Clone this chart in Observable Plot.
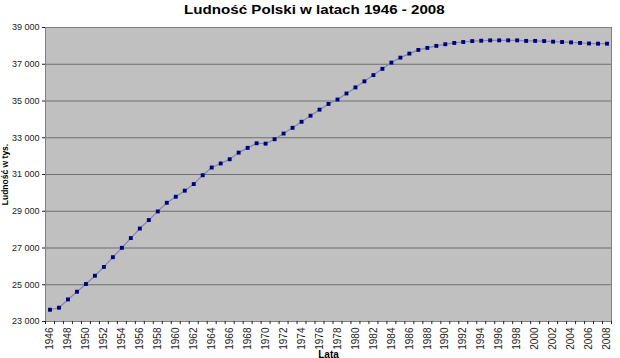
<!DOCTYPE html>
<html>
<head>
<meta charset="utf-8">
<script src="https://cdn.jsdelivr.net/npm/d3@7"></script>
<script src="https://cdn.jsdelivr.net/npm/@observablehq/plot@0.6"></script>
<style>
  html, body { margin: 0; padding: 0; background: #fff; }
  #title { height: 20px; width: 620px; text-align: center; padding-left: 8px; box-sizing: border-box; overflow: visible; }
  #title span { display: inline-block; font: bold 12px "Liberation Sans", Arial, sans-serif; line-height: 14px; transform: scaleX(1.26); transform-origin: center; color: #000; margin-top: 1px; }
  svg [aria-label="y-axis label"] text { font-weight: bold; font-size: 8.5px; fill: #000; }
  svg [aria-label="x-axis label"] text { font-weight: bold; font-size: 10px; fill: #000; }
  svg [aria-label="x-axis tick label"] text { font-size: 10px; }
</style>
</head>
<body>
<div id="title"><span>Ludność Polski w latach 1946 - 2008</span></div>
<div id="chart"></div>
<script>
const years = [1946,1947,1948,1949,1950,1951,1952,1953,1954,1955,1956,1957,1958,1959,1960,1961,1962,1963,1964,1965,1966,1967,1968,1969,1970,1971,1972,1973,1974,1975,1976,1977,1978,1979,1980,1981,1982,1983,1984,1985,1986,1987,1988,1989,1990,1991,1992,1993,1994,1995,1996,1997,1998,1999,2000,2001,2002,2003,2004,2005,2006,2007,2008];
const population = [23640,23750,24200,24620,25040,25490,25970,26500,27010,27540,28060,28520,28990,29460,29790,30120,30480,30960,31380,31600,31830,32190,32450,32700,32680,32920,33230,33540,33870,34200,34530,34840,35080,35410,35740,36070,36410,36750,37090,37360,37580,37780,37890,38000,38090,38160,38210,38260,38280,38300,38300,38300,38300,38270,38270,38260,38230,38210,38190,38160,38130,38120,38120];
const yTicks = [23000,25000,27000,29000,31000,33000,35000,37000,39000];
const yearLabels = [1946,1948,1950,1952,1954,1956,1958,1960,1962,1964,1966,1968,1970,1972,1974,1976,1978,1980,1982,1984,1986,1988,1990,1992,1994,1996,1998,2000,2002,2004,2006,2008];
const categoryEdges = years.concat([2009]).map(y => y - 0.5);

const data = years.map((year, i) => ({year, pop: population[i]}));
const fmt = d => d3.format(",")(d).replace(",", " ");

const chart = Plot.plot({
  width: 620,
  height: 338,
  marginTop: 7,
  marginBottom: 37,
  marginLeft: 45,
  marginRight: 9,
  style: {fontFamily: "'Liberation Sans', Arial, sans-serif", fontSize: "9px", color: "#222", background: "transparent"},
  x: {domain: [1945.5, 2008.5]},
  y: {domain: [23000, 39000]},
  marks: [
    Plot.frame({fill: "#c0c0c0"}),
    Plot.ruleY(yTicks, {stroke: "#6e6e6e", strokeWidth: 1}),
    Plot.frame({stroke: "#808080"}),
    Plot.axisY({ticks: yTicks, tickFormat: fmt, tickSize: 3, tickPadding: 3, label: "Ludność w tys.", labelAnchor: "center", labelOffset: 44, labelArrow: "none"}),
    Plot.axisX({ticks: categoryEdges, tickSize: 3, tickFormat: () => "", label: null}),
    Plot.axisX({ticks: yearLabels, tickSize: 0, tickPadding: 6, tickRotate: -90, tickFormat: d => String(d), label: "Lata", labelAnchor: "center", labelOffset: 36, labelArrow: "none"}),
    Plot.line(data, {x: "year", y: "pop", stroke: "#8484b4", strokeWidth: 1.2}),
    Plot.dot(data, {x: "year", y: "pop", symbol: "square", r: 2.2, fill: "#000080", stroke: "none"})
  ]
});
document.getElementById("chart").appendChild(chart);
</script>
</body>
</html>
